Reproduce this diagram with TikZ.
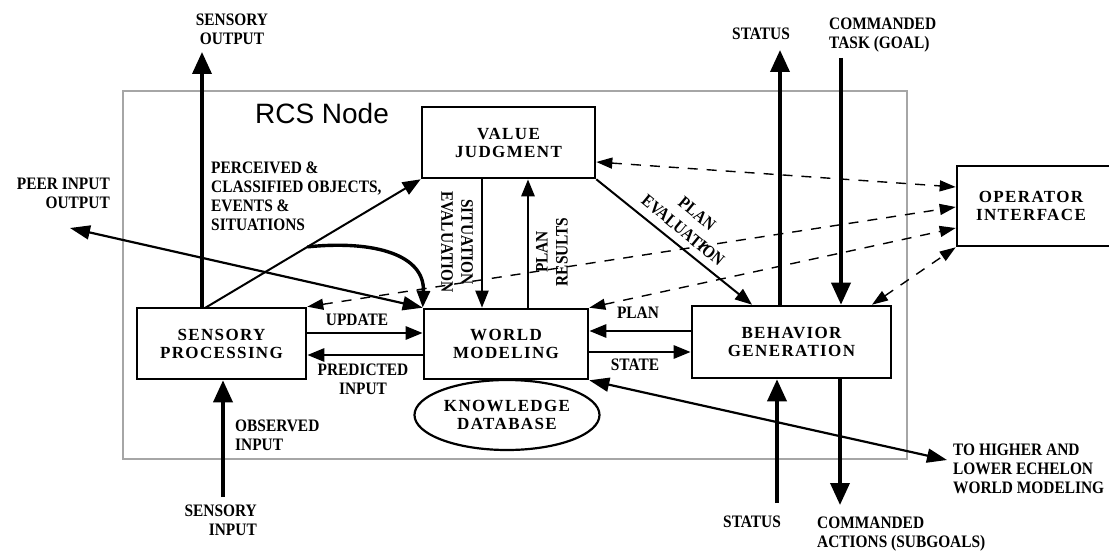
\documentclass[tikz,border=0pt]{standalone}
\usepackage{fontspec}
\setmainfont{Liberation Serif}
\newfontfamily\boxfont[LetterSpace=8]{Liberation Serif}
\newfontfamily\lblfont[FakeStretch=0.88]{Liberation Serif}
\newfontfamily\rcsfont{Liberation Sans}
\usetikzlibrary{arrows.meta,calc,shapes.geometric}
\tikzset{
  box/.style={draw, line width=2.6pt, inner sep=0pt, align=center,
    font=\boxfont\bfseries\fontsize{17}{18}\selectfont},
  lbl/.style={font=\lblfont\bfseries\fontsize{17.5}{19}\selectfont, inner sep=0pt, align=center},
  bigarr/.style={line width=3.6pt, -{Triangle[length=22pt,width=19pt]}},
  medarr/.style={line width=2.8pt, -{Triangle[length=17pt,width=13pt]}},
  thinarr/.style={line width=2pt, -{Triangle[length=17pt,width=13pt]}},
  dblarr/.style={line width=2.2pt, {Triangle[length=20pt,width=14pt]}-{Triangle[length=20pt,width=14pt]}},
  dsh/.style={line width=1.4pt, dash pattern=on 10pt off 9pt,
    {Triangle[length=16pt,width=11pt]}-{Triangle[length=16pt,width=11pt]}},
}
\begin{document}
\begin{tikzpicture}[x=1pt,y=-1pt]
\useasboundingbox (0,0) rectangle (1109,551);
\fill[white] (0,0) rectangle (1109,551);
% RCS node frame
\node[draw=black!35, line width=1.8pt, minimum width=784pt, minimum height=368pt, inner sep=0pt] (RCS) at (515,275) {};
\node[font=\rcsfont\fontsize{28}{30}\selectfont, inner sep=0pt] (rcslbl) at (322,113) {RCS Node};

% boxes
\node[box, minimum width=173pt, minimum height=71pt] (VJ) at (508.5,142.5) {VALUE\\JUDGMENT};
\node[box, minimum width=169pt, minimum height=71pt] (SP) at (221.5,343.5) {SENSORY\\PROCESSING};
\node[box, minimum width=164pt, minimum height=70pt] (WM) at (506,344) {WORLD\\MODELING};
\node[box, minimum width=199pt, minimum height=72pt] (BG) at (791.5,342) {BEHAVIOR\\GENERATION};
\node[box, minimum width=160pt, minimum height=80pt] (OI) at (1037,206) {};
\node[font=\boxfont\bfseries\fontsize{17}{18}\selectfont, align=center, inner sep=0pt] (OIlbl) at (1031,206) {OPERATOR\\INTERFACE};
\node[box, ellipse, line width=2.2pt, minimum width=185pt, minimum height=70pt] (KD) at (507,415) {KNOWLEDGE\\DATABASE};

% helper coordinates
\coordinate (soTip) at (202,52);
\coordinate (pStart) at (205,308);
\coordinate (peer) at (70,228);
\coordinate (yUpd) at (0,333);
\coordinate (yPred) at (0,355);
\coordinate (yPlan) at (0,331);
\coordinate (yState) at (0,352);
\coordinate (xSit) at (482,0);
\coordinate (xPR) at (528,0);
\coordinate (xPE) at (752,0);
\coordinate (stTop) at (780,50);
\coordinate (ctTop) at (841,58);
\coordinate (sbBot) at (777,503);
\coordinate (caBot) at (840,505);
\coordinate (siBot) at (223,497);
\coordinate (echelon) at (947,460);
\coordinate (bgDash) at (872,0);

% dashed links to operator interface
\draw[dsh] (VJ.east |- 0,162) -- (OI.west |- 0,187);
\draw[dsh] (SP.north east) -- (OI.west |- 0,207);
\draw[dsh] (WM.north east) -- (OI.west |- 0,228);
\draw[dsh] (BG.north -| bgDash) -- (OI.south west);

% sensory processing links
\draw[bigarr] (soTip |- SP.north) -- (soTip);
\draw[bigarr] (siBot) -- (SP.south -| siBot);
\draw[line width=2pt, -{Triangle[length=18pt,width=14pt]}] (pStart) -- (VJ.south west);
\draw[line width=3.4pt, -{Triangle[length=17pt,width=13pt]}]
  ($(pStart)!0.475!(VJ.south west)$) .. controls (375,240) and (425,255) .. (WM.north west);
\draw[dblarr] (peer) -- (WM.north west);
\draw[medarr] (SP.east |- yUpd) -- (WM.west |- yUpd);
\draw[medarr] (WM.west |- yPred) -- (SP.east |- yPred);

% value judgment links
\draw[thinarr] (VJ.south -| xSit) -- (WM.north -| xSit);
\draw[medarr] (WM.north -| xPR) -- (VJ.south -| xPR);
\draw[thinarr] (VJ.south east) -- (BG.north -| xPE);

% behavior generation links
\draw[medarr] (BG.west |- yPlan) -- (WM.east |- yPlan);
\draw[medarr] (WM.east |- yState) -- (BG.west |- yState);
\draw[bigarr] (BG.north -| stTop) -- (stTop);
\draw[bigarr] (ctTop) -- (BG.north -| ctTop);
\draw[bigarr] (sbBot) -- (BG.south -| sbBot);
\draw[bigarr] (BG.south -| caBot) -- (caBot);
\draw[dblarr] (WM.south east) -- (echelon);

% labels
\node[lbl] (lso) at (232,29) {SENSORY\\OUTPUT};
\node[lbl, align=right, anchor=east] (lpeer) at (110,193) {PEER INPUT\\OUTPUT};
\node[lbl, align=left, anchor=west] (lperc) at (211,196) {PERCEIVED \&\\CLASSIFIED OBJECTS,\\EVENTS \&\\SITUATIONS};
\node[lbl, rotate=-90, font=\lblfont\bfseries\fontsize{17.5}{20}\selectfont] (lsit) at (457,242) {SITUATION\\EVALUATION};
\node[lbl, rotate=90, font=\lblfont\bfseries\fontsize{17.5}{20}\selectfont] (lpr) at (552,252) {PLAN\\RESULTS};
\node[lbl, rotate=-39.5, font=\lblfont\bfseries\fontsize{17.5}{22}\selectfont] (lpe) at (690,222) {PLAN\\EVALUATION};
\node[lbl] (lupd) at (357,320) {UPDATE};
\node[lbl] (lpred) at (363,379) {PREDICTED\\INPUT};
\node[lbl] (lplan) at (638,313) {PLAN};
\node[lbl] (lstate) at (635,365) {STATE};
\node[lbl] (lst) at (761,34) {STATUS};
\node[lbl, align=left, anchor=west] (lct) at (829,35) {COMMANDED\\TASK (GOAL)};
\node[lbl] (lsb) at (752,522) {STATUS};
\node[lbl, align=left, anchor=west] (lca) at (817,534) {COMMANDED\\ACTIONS (SUBGOALS)};
\node[lbl, align=left, anchor=west] (lech) at (953,469) {TO HIGHER AND\\LOWER ECHELON\\WORLD MODELING};
\node[lbl, align=right, anchor=east] (lsi) at (257,520) {SENSORY\\INPUT};
\node[lbl, align=left, anchor=west] (lobs) at (235,435) {OBSERVED\\INPUT};
\end{tikzpicture}
\end{document}
